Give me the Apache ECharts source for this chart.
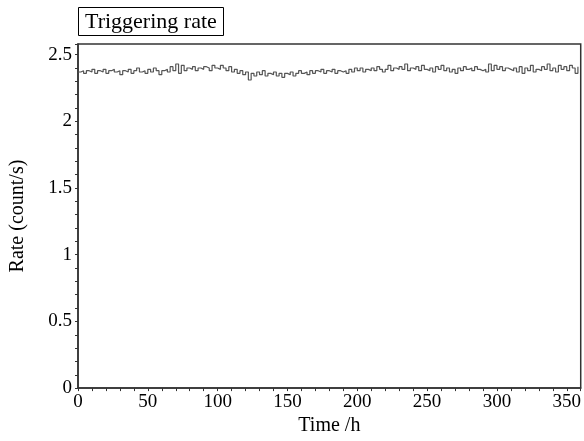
<!DOCTYPE html>
<html>
<head>
<meta charset="utf-8">
<script src="https://cdn.jsdelivr.net/npm/echarts@6/dist/echarts.min.js"></script>
<style>
html,body{margin:0;padding:0;background:#fff;}
#chart{width:584px;height:441px;}
</style>
</head>
<body>
<div id="chart"></div>
<script>
// Sampling of the time axis (hours)
const startHour = 0;
const stepHours = 2;

// Triggering rate (count/s), one value per 2 h
const rateValues = [
  2.37, 2.38, 2.36, 2.38, 2.37,
  2.39, 2.36, 2.38, 2.37, 2.39,
  2.36, 2.38, 2.39, 2.37, 2.38,
  2.35, 2.38, 2.37, 2.39, 2.36,
  2.38, 2.40, 2.37, 2.38, 2.36,
  2.39, 2.37, 2.40, 2.38, 2.35,
  2.38, 2.39, 2.37, 2.41, 2.38,
  2.43, 2.36, 2.42, 2.38, 2.40,
  2.39, 2.41, 2.38, 2.40, 2.39,
  2.41, 2.40, 2.38, 2.42, 2.40,
  2.39, 2.42, 2.40, 2.38, 2.41,
  2.37, 2.39, 2.36, 2.38, 2.35,
  2.37, 2.31, 2.36, 2.34, 2.37,
  2.35, 2.38, 2.34, 2.36, 2.35,
  2.37, 2.34, 2.36, 2.33, 2.36,
  2.35, 2.37, 2.34, 2.36, 2.38,
  2.36, 2.37, 2.35, 2.38, 2.36,
  2.38, 2.37, 2.39, 2.36, 2.38,
  2.37, 2.39, 2.36, 2.38, 2.37,
  2.38, 2.36, 2.39, 2.37, 2.40,
  2.38, 2.40, 2.37, 2.39, 2.38,
  2.40, 2.38, 2.41, 2.39, 2.37,
  2.39, 2.42, 2.38, 2.40, 2.39,
  2.41, 2.39, 2.43, 2.38, 2.40,
  2.39, 2.41, 2.38, 2.42, 2.39,
  2.38, 2.40, 2.37, 2.41, 2.39,
  2.42, 2.38, 2.40, 2.37, 2.39,
  2.36, 2.40, 2.38, 2.41, 2.39,
  2.40, 2.38, 2.41, 2.39, 2.38,
  2.39, 2.37, 2.43, 2.38, 2.42,
  2.39, 2.41, 2.38, 2.40, 2.39,
  2.38, 2.40, 2.37, 2.41, 2.36,
  2.40, 2.38, 2.42, 2.37, 2.39,
  2.38, 2.41, 2.39, 2.43, 2.38,
  2.40, 2.37, 2.42, 2.39, 2.41,
  2.38, 2.42, 2.40, 2.36, 2.41
];

const titleText = 'Triggering rate';
const xAxisName = 'Time /h';
const yAxisName = 'Rate (count/s)';

const seriesData = rateValues.map((v, i) => [startHour + i * stepHours, v]);

const FONT = '"Liberation Serif", "DejaVu Serif", serif';
const AXIS_COLOR = '#333';

const chart = echarts.init(document.getElementById('chart'), null, {renderer: 'canvas'});
chart.setOption({
  animation: false,
  backgroundColor: '#fff',
  title: {
    text: titleText,
    left: 78,
    top: 7,
    padding: [4, 7, 3, 7],
    borderColor: '#000',
    borderWidth: 1,
    textStyle: {fontFamily: FONT, fontSize: 22, fontWeight: 'normal', color: '#000'}
  },
  grid: {
    left: 78, right: 2, top: 44, bottom: 52,
    show: true, borderColor: AXIS_COLOR, borderWidth: 1.5, backgroundColor: 'transparent'
  },
  xAxis: {
    type: 'value',
    min: 0, max: 360, interval: 50,
    name: xAxisName,
    nameLocation: 'middle',
    nameGap: 27,
    nameTextStyle: {fontFamily: FONT, fontSize: 20, color: '#000'},
    axisLine: {show: true, lineStyle: {color: AXIS_COLOR, width: 1.5}},
    axisTick: {show: true, length: 3, lineStyle: {color: AXIS_COLOR}},
    minorTick: {show: true, splitNumber: 5, length: 3, lineStyle: {color: AXIS_COLOR}},
    axisLabel: {fontFamily: FONT, fontSize: 19, color: '#000', margin: 4, showMaxLabel: false},
    splitLine: {show: false}
  },
  yAxis: {
    type: 'value',
    min: 0, max: 2.58, interval: 0.5,
    name: yAxisName,
    nameLocation: 'middle',
    nameGap: 50,
    nameTextStyle: {fontFamily: FONT, fontSize: 20, color: '#000'},
    axisLine: {show: true, lineStyle: {color: AXIS_COLOR, width: 1.5}},
    axisTick: {show: true, length: 3, lineStyle: {color: AXIS_COLOR}},
    minorTick: {show: true, splitNumber: 5, length: 3, lineStyle: {color: AXIS_COLOR}},
    axisLabel: {fontFamily: FONT, fontSize: 19, color: '#000', margin: 6, showMaxLabel: false},
    splitLine: {show: false}
  },
  series: [{
    type: 'line',
    data: seriesData,
    step: 'end',
    showSymbol: false,
    lineStyle: {color: '#555', width: 1.2}
  }]
});
</script>
</body>
</html>
